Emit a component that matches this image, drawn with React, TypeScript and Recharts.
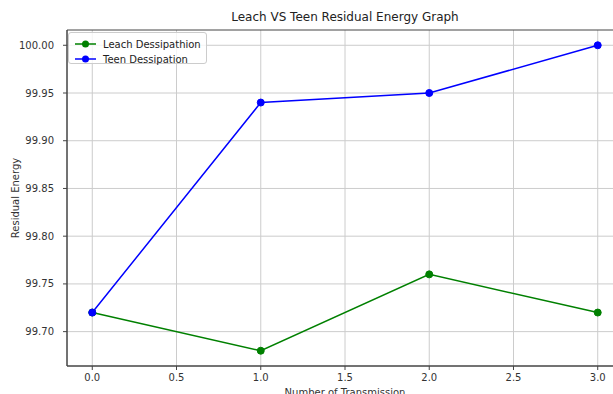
import React from "react";
import {
  LineChart,
  Line,
  XAxis,
  YAxis,
  CartesianGrid,
  ReferenceArea,
} from "recharts";

const transmissions = [0, 1, 2, 3];
const leachDissipation = [99.72, 99.68, 99.76, 99.72];
const teenDissipation = [99.72, 99.94, 99.95, 100.0];
const xTicks = [0, 0.5, 1, 1.5, 2, 2.5, 3];
const yTicks = [99.7, 99.75, 99.8, 99.85, 99.9, 99.95, 100.0];

const seriesNames = ["Leach Dessipathion", "Teen Dessipation"];
const seriesColors = ["#008000", "#0000ff"];

const data = transmissions.map((t, i) => ({
  t,
  leach: leachDissipation[i],
  teen: teenDissipation[i],
}));

const FONT = "'DejaVu Sans', sans-serif";
const X_DOMAIN: [number, number] = [-0.15, 3.15];
const Y_DOMAIN: [number, number] = [99.664, 100.016];

function LegendBox() {
  return (
    <div
      style={{
        position: "absolute",
        left: 68,
        top: 32,
        width: 137,
        height: 30,
        border: "1px solid #cccccc",
        borderRadius: 3,
        background: "rgba(255,255,255,0.8)",
        fontFamily: FONT,
        fontSize: 10,
        color: "#222",
      }}
    >
      {seriesNames.map((name, i) => (
        <div
          key={name}
          style={{ position: "absolute", left: 0, top: 4 + i * 15, height: 14, display: "flex", alignItems: "center" }}
        >
          <svg width={32} height={14} style={{ display: "block" }}>
            <line x1={6} x2={27} y1={7} y2={7} stroke={seriesColors[i]} strokeWidth={1.5} />
            <circle cx={16.5} cy={7} r={3.5} fill={seriesColors[i]} />
          </svg>
          <span style={{ marginLeft: 2, whiteSpace: "nowrap" }}>{name}</span>
        </div>
      ))}
    </div>
  );
}

export default function App() {
  return (
    <div
      style={{
        position: "absolute",
        left: 0,
        top: 0,
        width: 613,
        height: 394,
        overflow: "hidden",
        background: "#fff",
      }}
    >
      <div
        style={{
          position: "absolute",
          left: 0,
          top: 10,
          width: 690,
          textAlign: "center",
          fontFamily: FONT,
          fontSize: 12,
          color: "#222",
        }}
      >
        Leach VS Teen Residual Energy Graph
      </div>
      <LineChart
        width={623}
        height={400}
        data={data}
        margin={{ top: 30, right: 0, bottom: 0, left: 0 }}
        style={{ fontFamily: FONT }}
      >
        <CartesianGrid stroke="#cccccc" strokeWidth={1} horizontalValues={yTicks} verticalValues={xTicks} />
        <XAxis
          dataKey="t"
          type="number"
          domain={X_DOMAIN}
          ticks={xTicks}
          allowDataOverflow
          tickFormatter={(v: number) => v.toFixed(1)}
          height={34}
          tickSize={4}
          tickMargin={4}
          tick={{ fontSize: 10, fill: "#333" }}
          stroke="#444"
          label={{ value: "Number of Transmission", position: "insideBottom", offset: 4, fontSize: 10, fill: "#333" }}
        />
        <YAxis
          type="number"
          domain={Y_DOMAIN}
          ticks={yTicks}
          allowDataOverflow
          tickFormatter={(v: number) => v.toFixed(2)}
          width={67}
          tickSize={4}
          tickMargin={9}
          tick={{ fontSize: 10, fill: "#333" }}
          stroke="#444"
          label={{
            value: "Residual Energy",
            angle: -90,
            position: "insideLeft",
            offset: 15,
            fontSize: 10,
            fill: "#333",
            textAnchor: "middle",
            style: { textAnchor: "middle" },
          }}
        />
        <ReferenceArea
          x1={X_DOMAIN[0]}
          x2={X_DOMAIN[1]}
          y1={Y_DOMAIN[0]}
          y2={Y_DOMAIN[1]}
          fill="none"
          stroke="#444"
          strokeWidth={1}
          ifOverflow="visible"
        />
        <Line
          dataKey="leach"
          name={seriesNames[0]}
          stroke={seriesColors[0]}
          strokeWidth={1.5}
          dot={{ r: 3.5, fill: seriesColors[0], stroke: seriesColors[0], strokeWidth: 1 }}
          activeDot={false}
          isAnimationActive={false}
        />
        <Line
          dataKey="teen"
          name={seriesNames[1]}
          stroke={seriesColors[1]}
          strokeWidth={1.5}
          dot={{ r: 3.5, fill: seriesColors[1], stroke: seriesColors[1], strokeWidth: 1 }}
          activeDot={false}
          isAnimationActive={false}
        />
      </LineChart>
      <LegendBox />
    </div>
  );
}
